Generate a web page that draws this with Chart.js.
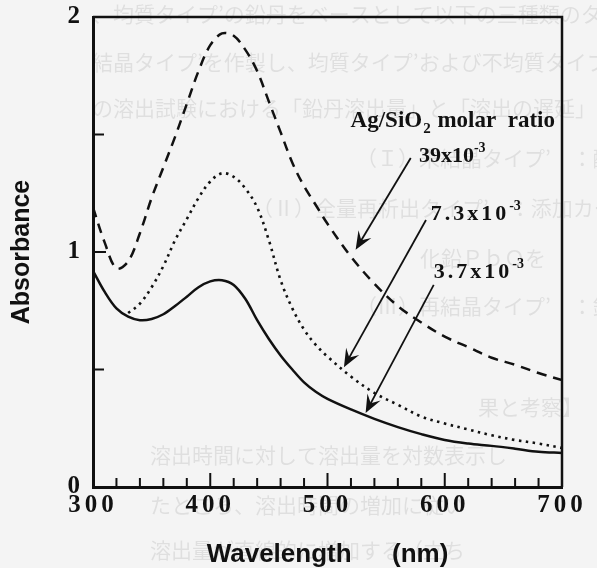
<!DOCTYPE html>
<html>
<head>
<meta charset="utf-8">
<script src="https://cdn.jsdelivr.net/npm/chart.js@4"></script>
<style>
  html, body { margin: 0; padding: 0; background: #f4f4f4; }
  canvas { display: block; }
</style>
</head>
<body>
<canvas id="c" width="597" height="568"></canvas>
<script>
// wavelength (nm) and absorbance
const wavelengths = [300, 310, 320, 330, 340, 350, 360, 370, 380, 390, 400, 410, 420, 430, 440, 450,
  460, 470, 480, 490, 500, 520, 540, 560, 580, 600, 620, 640, 660, 680, 700];
const ratio39 = [1.19, 1.04, 0.93, 0.96, 1.08, 1.23, 1.36, 1.49, 1.63, 1.77, 1.88, 1.93, 1.92, 1.86, 1.77, 1.64,
  1.51, 1.38, 1.28, 1.20, 1.12, 0.98, 0.865, 0.77, 0.70, 0.64, 0.595, 0.55, 0.52, 0.485, 0.455];
const ratio73 = [null, null, null, 0.74, 0.78, 0.85, 0.94, 1.05, 1.14, 1.23, 1.30, 1.335, 1.32, 1.27, 1.19, 1.05,
  0.88, 0.76, 0.67, 0.605, 0.555, 0.47, 0.40, 0.35, 0.30, 0.27, 0.245, 0.22, 0.20, 0.185, 0.166];
const ratio37 = [0.92, 0.83, 0.76, 0.725, 0.71, 0.715, 0.735, 0.77, 0.81, 0.85, 0.875, 0.88, 0.86, 0.80, 0.71, 0.63,
  0.56, 0.50, 0.445, 0.405, 0.375, 0.33, 0.29, 0.255, 0.225, 0.20, 0.185, 0.175, 0.163, 0.15, 0.145];

const xTicks = [300, 400, 500, 600, 700];
const yLabelTicks = [0, 1, 2];

// annotation labels: [text, exponent, x (nm), y (abs), letter spacing]
const labels = [
  ["39x10", "-3", 578, 1.383, 0],
  ["7.3x10", "-3", 588, 1.136, 3],
  ["3.7x10", "-3", 590.6, 0.889, 3]
];
// arrows: [tail nm, tail abs, head nm, head abs]
const arrows = [
  [571, 1.40, 524, 1.01],
  [584, 1.136, 514, 0.51],
  [590.6, 0.86, 532.5, 0.315]
];

// faint show-through text from the reverse page
const bleed = [
  [92, 14, "、均質タイプ’の鉛丹をベースとして以下の三種類のタイプ"],
  [92, 62, "結晶タイプ’を作製し、均質タイプ’および不均質タイプ’の"],
  [92, 108, "の溶出試験における「鉛丹溶出量」と「溶出の遅延」"],
  [356, 158, "（Ｉ）未結晶タイプ’　：酸化鉛ＰｂＯが"],
  [252, 208, "（Ⅱ）全量再析出タイプ’　：添加カーボンの"],
  [420, 258, "化鉛ＰｂＯを"],
  [356, 306, "（Ⅲ）再結晶タイプ’　：鉛丹全量がない"],
  [478, 407, "果と考察】"],
  [150, 455, "溶出時間に対して溶出量を対数表示し"],
  [150, 505, "たところ、溶出時間の増加に従い"],
  [150, 550, "溶出量が直線的に増加する（立ち"]
];

const frame = {
  id: "frame",
  beforeDraw(chart) {
    const ctx = chart.ctx;
    ctx.save();
    ctx.fillStyle = "rgba(0,0,0,0.085)";
    ctx.font = '21px "Noto Sans CJK JP"';
    ctx.textBaseline = "middle";
    bleed.forEach(b => ctx.fillText(b[2], b[0], b[1]));
    ctx.restore();
    const xs = chart.scales.x;
    if (!xs._spaced) {
      const orig = xs.drawLabels;
      xs.drawLabels = function (area) {
        this.ctx.save();
        this.ctx.letterSpacing = "4px";
        orig.call(this, area);
        this.ctx.restore();
      };
      xs._spaced = true;
    }
  },
  afterDatasetsDraw(chart) {
    const ctx = chart.ctx;
    const a = chart.chartArea;
    const xs = chart.scales.x, ys = chart.scales.y;
    ctx.save();
    ctx.strokeStyle = "#111";
    ctx.lineWidth = 2.5;
    ctx.beginPath();
    ctx.moveTo(a.left, a.top);
    ctx.lineTo(a.right, a.top);
    ctx.lineTo(a.right, a.bottom);
    ctx.stroke();
    ctx.lineWidth = 2;
    for (let w = 320; w < 700; w += 20) {
      const px = xs.getPixelForValue(w);
      const len = w % 100 === 0 ? 14 : 9;
      ctx.beginPath();
      ctx.moveTo(px, a.bottom);
      ctx.lineTo(px, a.bottom - len);
      ctx.stroke();
    }
    [0.5, 1, 1.5].forEach(v => {
      const py = ys.getPixelForValue(v);
      ctx.beginPath();
      ctx.moveTo(a.left, py);
      ctx.lineTo(a.left + (v === 1 ? 13 : 11), py);
      ctx.stroke();
    });

    // arrows
    ctx.fillStyle = "#111";
    ctx.lineWidth = 1.8;
    arrows.forEach(r => {
      const x1 = xs.getPixelForValue(r[0]), y1 = ys.getPixelForValue(r[1]);
      const x2 = xs.getPixelForValue(r[2]), y2 = ys.getPixelForValue(r[3]);
      const ang = Math.atan2(y2 - y1, x2 - x1);
      ctx.beginPath();
      ctx.moveTo(x1, y1);
      ctx.lineTo(x2 - 8 * Math.cos(ang), y2 - 8 * Math.sin(ang));
      ctx.stroke();
      const L = 18, W = 7.5;
      ctx.beginPath();
      ctx.moveTo(x2, y2);
      ctx.lineTo(x2 - L * Math.cos(ang) + W * Math.sin(ang), y2 - L * Math.sin(ang) - W * Math.cos(ang));
      ctx.lineTo(x2 - 11 * Math.cos(ang), y2 - 11 * Math.sin(ang));
      ctx.lineTo(x2 - L * Math.cos(ang) - W * Math.sin(ang), y2 - L * Math.sin(ang) + W * Math.cos(ang));
      ctx.closePath();
      ctx.fill();
    });

    // labels
    ctx.textBaseline = "alphabetic";
    ctx.textAlign = "left";
    let x = xs.getPixelForValue(519.7), y = ys.getPixelForValue(1.532);
    ctx.font = 'bold 23px "Liberation Serif"';
    ctx.fillText("Ag/SiO", x, y);
    x += ctx.measureText("Ag/SiO").width;
    ctx.font = 'bold 15px "Liberation Serif"';
    ctx.fillText("2", x + 1, y + 6);
    x += ctx.measureText("2").width + 2;
    ctx.font = 'bold 23px "Liberation Serif"';
    ctx.fillText(" molar  ratio", x, y);

    labels.forEach(l => {
      let lx = xs.getPixelForValue(l[2]);
      const ly = ys.getPixelForValue(l[3]);
      ctx.letterSpacing = l[4] + "px";
      ctx.font = 'bold 22px "Liberation Serif"';
      ctx.fillText(l[0], lx, ly);
      lx += ctx.measureText(l[0]).width;
      ctx.letterSpacing = "0px";
      ctx.font = 'bold 14px "Liberation Serif"';
      ctx.fillText(l[1], lx, ly - 10);
    });
    ctx.restore();
  }
};

new Chart(document.getElementById("c"), {
  type: "line",
  data: {
    labels: wavelengths,
    datasets: [
      { label: "39x10-3", data: ratio39, borderColor: "#111", borderWidth: 2.5, borderDash: [10, 7] },
      { label: "7.3x10-3", data: ratio73, borderColor: "#111", borderWidth: 2.6, borderDash: [2.5, 4.5] },
      { label: "3.7x10-3", data: ratio37, borderColor: "#111", borderWidth: 2.5 }
    ].map(d => Object.assign(d, { pointRadius: 0, fill: false, tension: 0.35 }))
  },
  options: {
    responsive: false,
    animation: false,
    devicePixelRatio: 1,
    layout: { padding: { top: 17, right: 35, left: 0, bottom: 0 } },
    plugins: { legend: { display: false }, tooltip: { enabled: false } },
    scales: {
      x: {
        type: "linear",
        min: 300, max: 700,
        grid: { display: false, drawTicks: false },
        border: { display: true, color: "#111", width: 3 },
        afterBuildTicks: s => { s.ticks = xTicks.map(v => ({ value: v })); },
        afterFit: s => { s.height = 81; s.paddingLeft = 0; s.paddingRight = 0; },
        ticks: {
          color: "#111", padding: 4, maxRotation: 0, autoSkip: false,
          font: { family: "Liberation Serif", weight: "bold", size: 25 }
        },
        title: {
          display: true, text: "Wavelength\u2003  (nm)", color: "#111",
          font: { family: "Liberation Sans", weight: "bold", size: 26, lineHeight: 1 },
          padding: { top: 0, bottom: 0 }
        }
      },
      y: {
        min: 0, max: 2,
        grid: { display: false, drawTicks: false },
        border: { display: true, color: "#111", width: 3 },
        afterBuildTicks: s => { s.ticks = yLabelTicks.map(v => ({ value: v })); },
        afterFit: s => { s.width = 93; s.paddingTop = 0; s.paddingBottom = 0; },
        ticks: {
          color: "#111", padding: 13,
          font: { family: "Liberation Serif", weight: "bold", size: 25 }
        },
        title: {
          display: true, text: "Absorbance", color: "#111",
          font: { family: "Liberation Sans", weight: "bold", size: 25, lineHeight: 1 },
          padding: { top: 10, bottom: 0 }
        }
      }
    }
  },
  plugins: [frame]
});
</script>
</body>
</html>
